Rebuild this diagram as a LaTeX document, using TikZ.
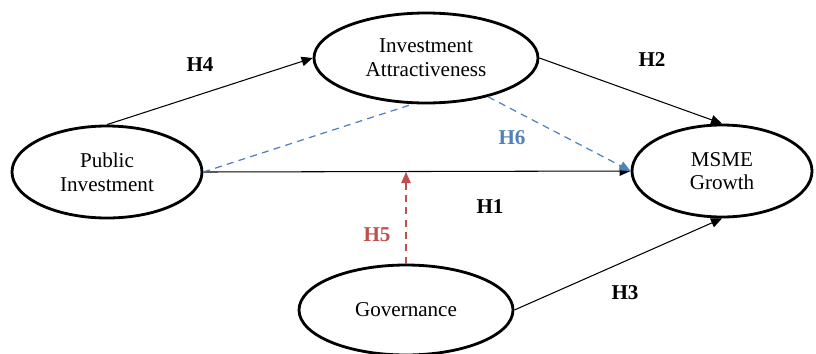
\documentclass[tikz,border=0pt]{standalone}
\usepackage{fontspec}
\setmainfont{Liberation Serif}
\usepackage{tikz}
\usetikzlibrary{shapes.geometric, arrows.meta, positioning, calc}
\definecolor{hypblue}{RGB}{79,129,189}
\definecolor{hypred}{RGB}{192,80,77}
\tikzset{
    construct/.style={
        ellipse,
        draw=black,
        line width=1.6pt,
        fill=white,
        inner sep=0pt,
        minimum width=3.8cm,
        minimum height=1.84cm,
        align=center,
        font=\fontsize{12}{13.5}\selectfont
    },
    arrow/.style={
        -{Triangle[length=2.2mm, width=1.9mm]},
        line width=0.6pt
    },
    mediated/.style={
        hypblue,
        dash pattern=on 4pt off 3pt,
        line width=0.7pt
    },
    moderated/.style={
        -{Triangle[length=2.2mm, width=1.9mm]},
        hypred,
        dash pattern=on 4pt off 3pt,
        line width=0.7pt
    },
    hyp/.style={
        font=\fontsize{12}{14}\selectfont\bfseries
    }
}

\begin{document}
\begin{tikzpicture}

    \useasboundingbox (0,0) rectangle (16.32,7.06);

    % Constructs
    \node[construct] (pi) at (2.14,3.62) {Public\\Investment};
    \node[construct, minimum width=4.48cm, minimum height=1.8cm] (ia) at (8.52,5.9) {Investment\\Attractiveness};
    \node[construct, minimum width=3.6cm] (msme) at (14.44,3.64) {MSME\\Growth};
    \node[construct, minimum width=4.28cm, minimum height=1.8cm] (gov) at (8.12,0.86) {Governance};

    % Point on the H1 path hit by the moderator
    \coordinate (modpt) at (gov.north |- pi.east);

    % Direct paths
    \draw[arrow] (pi.north) -- (ia.west);
    \draw[arrow] (ia.east) -- (msme.north);
    \draw[arrow] (pi.east) -- (msme.west);
    \draw[arrow] (gov.east) -- (msme.south);

    % Mediation (H6)
    \draw[mediated] (pi.east) -- (ia.-106);
    \draw[mediated, -{Triangle[length=2.2mm, width=1.9mm]}] (ia.-32) -- (msme.west);

    % Moderation (H5)
    \draw[moderated] (gov.north) -- (modpt);

    % Hypothesis labels
    \node[hyp] (h4) at (4.0,5.76) {H4};
    \node[hyp] (h2) at (13.04,5.86) {H2};
    \node[hyp, text=hypblue] (h6) at (10.24,4.3) {H6};
    \node[hyp] (h1) at (9.8,2.92) {H1};
    \node[hyp, text=hypred] (h5) at (7.54,2.36) {H5};
    \node[hyp] (h3) at (12.5,1.2) {H3};

\end{tikzpicture}
\end{document}
